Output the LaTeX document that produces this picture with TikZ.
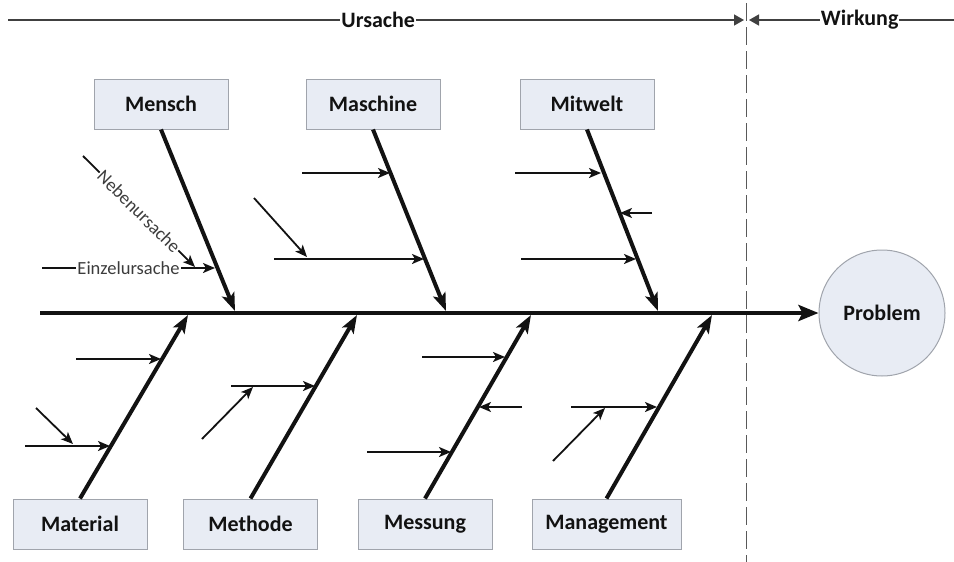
\documentclass[tikz,border=0pt]{standalone}
\usepackage{fontspec}
\setmainfont{Carlito}
\usetikzlibrary{arrows.meta}
\definecolor{boxfill}{RGB}{232,236,244}
\definecolor{boxline}{RGB}{160,164,172}
\definecolor{ink}{RGB}{18,18,18}
\definecolor{lblink}{RGB}{60,60,60}
\begin{document}
\begin{tikzpicture}[x=1pt,y=-1pt,
  cat/.style={draw=boxline, line width=1pt, fill=boxfill, minimum width=134pt, minimum height=50pt,
    font=\fontsize{22}{26}\selectfont\bfseries, text=ink, inner sep=0pt},
  spine/.style={draw=ink, line width=4.5pt, -{Stealth[length=20pt,width=16pt,inset=4pt]}},
  bone/.style={draw=ink, line width=4pt, -{Stealth[length=18pt,width=13pt,inset=4pt]}},
  twig/.style={draw=ink, line width=1.8pt, -{Stealth[length=12pt,width=10pt,inset=3pt]}},
  topline/.style={draw=black!75, line width=1.4pt, -{Triangle[length=10pt,width=11pt]}},
  toplbl/.style={fill=white, inner sep=1pt, font=\fontsize{22}{26}\selectfont\bfseries, text=ink},
  lbl/.style={fill=white, inner sep=1pt, font=\fontsize{18.5}{20}\selectfont, text=lblink},
  divider/.style={draw=black!65, line width=1pt, dash pattern=on 18pt off 6pt}
]
\useasboundingbox (0,0) rectangle (954,562);

% top header
\coordinate (u0) at (8,20);
\coordinate (u1) at (744,20);
\coordinate (w0) at (954,20);
\coordinate (w1) at (749,20);
\draw[topline] (u0) -- node[toplbl, pos=0.503] (ursache) {Ursache} (u1);
\draw[topline] (w0) -- node[toplbl, pos=0.46] (wirkung) {Wirkung} (w1);
\coordinate (d0) at (746,3);
\coordinate (d1) at (746,562);
\draw[divider] (d0) -- (d1);

% category boxes
\node[cat] (mensch) at (161,104) {Mensch};
\node[cat] (maschine) at (373,104) {Maschine};
\node[cat] (mitwelt) at (587,104) {Mitwelt};
\node[cat] (material) at (80,524) {Material};
\node[cat] (methode) at (250.5,524) {Methode};
\node[cat] (messung) at (425,524) {Messung};
\node[cat, minimum width=149pt] (management) at (606.5,524) {Management};
\node[circle, draw=boxline, line width=1pt, fill=boxfill, minimum size=126pt, inner sep=0pt,
  font=\fontsize{22}{26}\selectfont\bfseries, text=ink] (problem) at (882,313) {Problem};

% spine
\coordinate (s0) at (40,313);
\draw[spine] (s0) -- (problem.west);

% bone tips
\coordinate (tmensch) at (235,311);
\coordinate (tmaschine) at (446,311);
\coordinate (tmitwelt) at (658,311);
\coordinate (tmaterial) at (188,315);
\coordinate (tmethode) at (357,315);
\coordinate (tmessung) at (531,315);
\coordinate (tmanagement) at (712,315);

\draw[bone] (mensch.south) -- (tmensch);
\draw[bone] (maschine.south) -- (tmaschine);
\draw[bone] (mitwelt.south) -- (tmitwelt);
\draw[bone] (material.north) -- (tmaterial);
\draw[bone] (methode.north) -- (tmethode);
\draw[bone] (messung.north) -- (tmessung);
\draw[bone] (management.north) -- (tmanagement);

% Mensch twigs
\coordinate (e0) at (42,268);   \coordinate (e1) at (215,268);
\coordinate (n0) at (83,156);   \coordinate (n1) at (195,267);
\draw[twig] (e0) -- node[lbl] (einzel) {Einzelursache} (e1);
\draw[twig] (n0) -- node[lbl, sloped] (neben) {Nebenursache} (n1);

% Maschine twigs
\coordinate (a0) at (302,173);  \coordinate (a1) at (390,173);
\coordinate (b0) at (274,259);  \coordinate (b1) at (424,259);
\coordinate (c0) at (254,198);  \coordinate (c1) at (307,257);
\draw[twig] (a0) -- (a1);
\draw[twig] (b0) -- (b1);
\draw[twig] (c0) -- (c1);

% Mitwelt twigs
\coordinate (f0) at (515,173);  \coordinate (f1) at (601,173);
\coordinate (g0) at (652,213);  \coordinate (g1) at (620,213);
\coordinate (h0) at (521,259);  \coordinate (h1) at (636,259);
\draw[twig] (f0) -- (f1);
\draw[twig] (g0) -- (g1);
\draw[twig] (h0) -- (h1);

% Material twigs
\coordinate (i0) at (76,359);   \coordinate (i1) at (161,359);
\coordinate (j0) at (25,446);   \coordinate (j1) at (110,446);
\coordinate (k0) at (36,408);   \coordinate (k1) at (73,444);
\draw[twig] (i0) -- (i1);
\draw[twig] (j0) -- (j1);
\draw[twig] (k0) -- (k1);

% Methode twigs
\coordinate (l0) at (231,386);  \coordinate (l1) at (315,386);
\coordinate (m0) at (202,439);  \coordinate (m1) at (253,387);
\draw[twig] (l0) -- (l1);
\draw[twig] (m0) -- (m1);

% Messung twigs
\coordinate (o0) at (422,357);  \coordinate (o1) at (505,357);
\coordinate (p0) at (522,407);  \coordinate (p1) at (479,407);
\coordinate (q0) at (367,452);  \coordinate (q1) at (451,452);
\draw[twig] (o0) -- (o1);
\draw[twig] (p0) -- (p1);
\draw[twig] (q0) -- (q1);

% Management twigs
\coordinate (r0) at (571,407);  \coordinate (r1) at (657,407);
\coordinate (v0) at (553,461);  \coordinate (v1) at (605,408);
\draw[twig] (r0) -- (r1);
\draw[twig] (v0) -- (v1);
\end{tikzpicture}
\end{document}
